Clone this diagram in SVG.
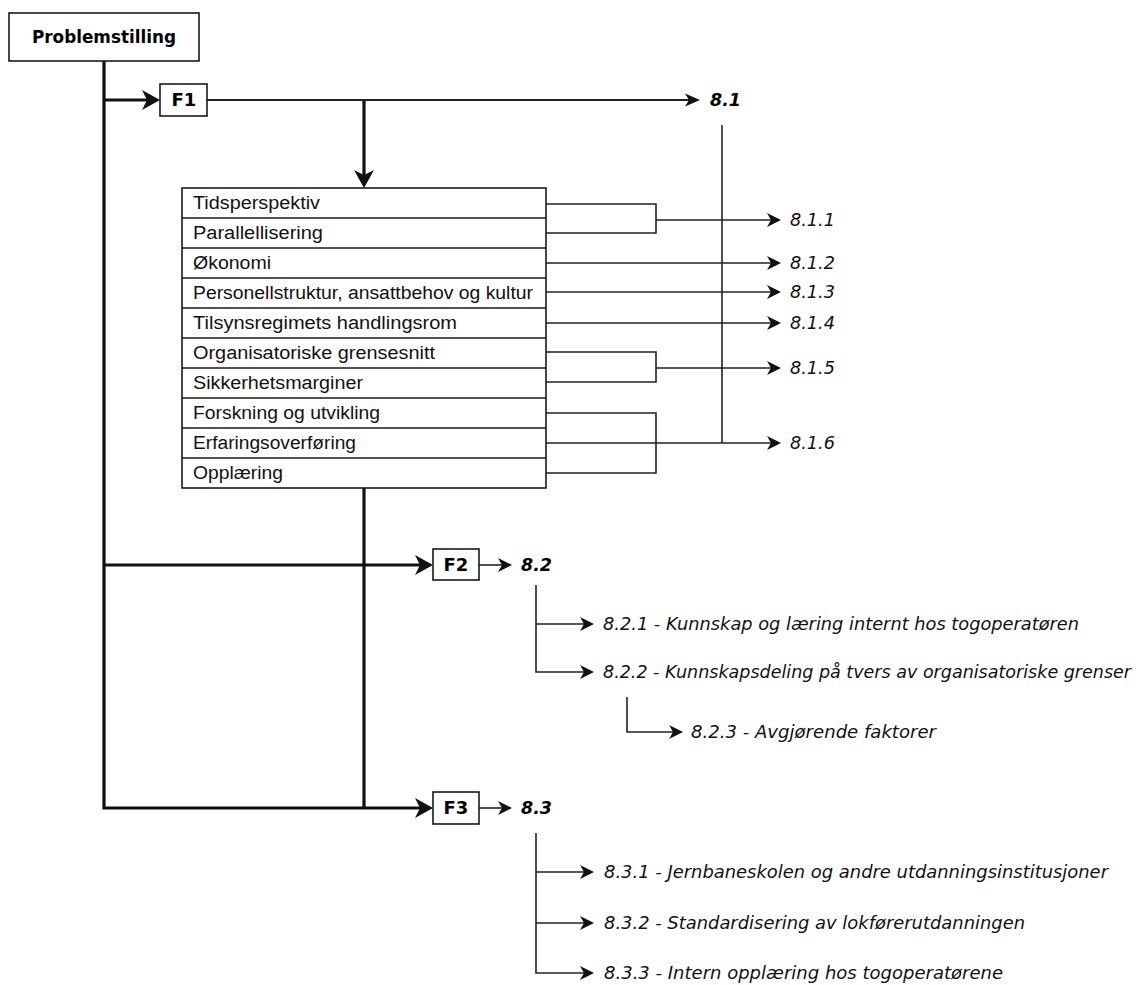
<svg xmlns="http://www.w3.org/2000/svg" xmlns:xlink="http://www.w3.org/1999/xlink" width="1142" height="985" viewBox="0 0 1142 985">
  <style>
    .box { fill: #ffffff; stroke: #1a1a1a; stroke-width: 1.6; }
    .thick { fill: none; stroke: #111111; stroke-width: 3.2; }
    .mid { fill: none; stroke: #222222; stroke-width: 2.2; }
    .thin { fill: none; stroke: #222222; stroke-width: 1.6; }
    .head { fill: #111111; stroke: none; }
    .title { font-family: "DejaVu Sans", Verdana, sans-serif; font-weight: bold; font-size: 18px; fill: #000; }
    .row { font-family: "Liberation Sans", Arial, sans-serif; font-size: 18px; fill: #111; }
    .ref { font-family: "DejaVu Sans", Verdana, sans-serif; font-style: italic; font-size: 18px; fill: #111; }
    .ref.long { font-size: 17px; }
    .refb { font-family: "DejaVu Sans", Verdana, sans-serif; font-style: italic; font-weight: bold; font-size: 18px; fill: #000; }
  </style>
  <defs>
    <!-- arrowheads, tip at the origin, pointing right -->
    <path id="ahBig" class="head" d="M0,0 L-18,-10 L-13,0 L-18,10 Z"/>
    <path id="ahMid" class="head" d="M0,0 L-15,-6.5 L-11,0 L-15,6.5 Z"/>
    <path id="ahSmall" class="head" d="M0,0 L-14,-7 L-10,0 L-14,7 Z"/>
  </defs>
  <rect width="1142" height="985" fill="#ffffff"/>

  <!-- connectors -->
  <g id="connectors">
    <!-- main trunk and question branches -->
    <path class="thick" d="M104,61 V808 H420"/>
    <path class="thick" d="M104,100 H148"/>
    <path class="thick" d="M104,565 H420"/>
    <path class="thick" d="M364,488 V808"/>
    <path class="thick" d="M364,100 V176"/>
    <use xlink:href="#ahBig" x="160" y="100"/>
    <use xlink:href="#ahBig" x="433" y="565"/>
    <use xlink:href="#ahBig" x="433" y="808"/>
    <use xlink:href="#ahBig" transform="translate(364,188) rotate(90)"/>

    <!-- F1 to 8.1 -->
    <path class="mid" d="M207,100 H690"/>
    <use xlink:href="#ahMid" x="700" y="100"/>
    <path class="thin" d="M722,125 V443"/>

    <!-- table rows to 8.1.x -->
    <path class="thin" d="M546,204 H656 V233 H546 M656,220 H772"/>
    <use xlink:href="#ahSmall" x="781" y="220"/>
    <path class="thin" d="M546,263 H772"/>
    <use xlink:href="#ahSmall" x="781" y="263"/>
    <path class="thin" d="M546,292 H772"/>
    <use xlink:href="#ahSmall" x="781" y="292"/>
    <path class="thin" d="M546,323 H772"/>
    <use xlink:href="#ahSmall" x="781" y="323"/>
    <path class="thin" d="M546,352 H656 V382 H546 M656,368 H772"/>
    <use xlink:href="#ahSmall" x="781" y="368"/>
    <path class="thin" d="M546,413 H656 V473 H546 M546,443 H772"/>
    <use xlink:href="#ahSmall" x="781" y="443"/>

    <!-- F2 / F3 to chapter numbers -->
    <path class="thin" d="M479,565 H504"/>
    <use xlink:href="#ahSmall" x="512" y="565"/>
    <path class="thin" d="M479,808 H504"/>
    <use xlink:href="#ahSmall" x="512" y="808"/>

    <!-- 8.2 subsections -->
    <path class="thin" d="M536,585 V672 H584 M536,624 H584"/>
    <use xlink:href="#ahSmall" x="594" y="624"/>
    <use xlink:href="#ahSmall" x="594" y="672"/>
    <path class="thin" d="M627,697 V732 H673"/>
    <use xlink:href="#ahSmall" x="683" y="732"/>

    <!-- 8.3 subsections -->
    <path class="thin" d="M536,833 V973 H584 M536,872 H584 M536,923 H584"/>
    <use xlink:href="#ahSmall" x="594" y="872"/>
    <use xlink:href="#ahSmall" x="594" y="923"/>
    <use xlink:href="#ahSmall" x="594" y="973"/>
  </g>

  <g id="problemstilling">
    <rect class="box" x="9" y="13" width="190" height="48"/>
    <text class="title" x="104" y="43" text-anchor="middle" textLength="144" lengthAdjust="spacingAndGlyphs">Problemstilling</text>
  </g>

  <g id="f1">
    <rect class="box" x="160" y="84" width="47" height="32"/>
    <text class="title" x="184" y="106" text-anchor="middle">F1</text>
  </g>

  <g id="f2">
    <rect class="box" x="433" y="549" width="46" height="31"/>
    <text class="title" x="456" y="571" text-anchor="middle">F2</text>
  </g>

  <g id="f3">
    <rect class="box" x="433" y="792" width="46" height="32"/>
    <text class="title" x="456" y="814" text-anchor="middle">F3</text>
  </g>

  <g id="factors">
    <rect class="box" x="182" y="188" width="364" height="300"/>
    <path class="box" d="M182,218 H546 M182,248 H546 M182,278 H546 M182,308 H546 M182,338 H546 M182,368 H546 M182,398 H546 M182,428 H546 M182,458 H546"/>
    <text class="row" x="193" y="209" textLength="127" lengthAdjust="spacingAndGlyphs">Tidsperspektiv</text>
    <text class="row" x="193" y="239" textLength="130" lengthAdjust="spacingAndGlyphs">Parallellisering</text>
    <text class="row" x="193" y="269" textLength="78" lengthAdjust="spacingAndGlyphs">Økonomi</text>
    <text class="row" x="193" y="299" textLength="340" lengthAdjust="spacingAndGlyphs">Personellstruktur, ansattbehov og kultur</text>
    <text class="row" x="193" y="329" textLength="264" lengthAdjust="spacingAndGlyphs">Tilsynsregimets handlingsrom</text>
    <text class="row" x="193" y="359" textLength="242" lengthAdjust="spacingAndGlyphs">Organisatoriske grensesnitt</text>
    <text class="row" x="193" y="389" textLength="170" lengthAdjust="spacingAndGlyphs">Sikkerhetsmarginer</text>
    <text class="row" x="193" y="419" textLength="187" lengthAdjust="spacingAndGlyphs">Forskning og utvikling</text>
    <text class="row" x="193" y="449" textLength="163" lengthAdjust="spacingAndGlyphs">Erfaringsoverføring</text>
    <text class="row" x="193" y="479" textLength="90" lengthAdjust="spacingAndGlyphs">Opplæring</text>
  </g>

  <g id="chapter-8-1">
    <text class="refb" x="710" y="106" textLength="31" lengthAdjust="spacingAndGlyphs">8.1</text>
    <text class="ref" x="790" y="226" textLength="45" lengthAdjust="spacingAndGlyphs">8.1.1</text>
    <text class="ref" x="790" y="269" textLength="45" lengthAdjust="spacingAndGlyphs">8.1.2</text>
    <text class="ref" x="790" y="298" textLength="45" lengthAdjust="spacingAndGlyphs">8.1.3</text>
    <text class="ref" x="790" y="329" textLength="45" lengthAdjust="spacingAndGlyphs">8.1.4</text>
    <text class="ref" x="790" y="374" textLength="45" lengthAdjust="spacingAndGlyphs">8.1.5</text>
    <text class="ref" x="790" y="449" textLength="45" lengthAdjust="spacingAndGlyphs">8.1.6</text>
  </g>

  <g id="chapter-8-2">
    <text class="refb" x="521" y="571" textLength="31" lengthAdjust="spacingAndGlyphs">8.2</text>
    <text class="ref" x="603" y="630" textLength="476" lengthAdjust="spacingAndGlyphs">8.2.1 - Kunnskap og læring internt hos togoperatøren</text>
    <text class="ref long" x="603" y="678" textLength="528" lengthAdjust="spacingAndGlyphs">8.2.2 - Kunnskapsdeling på tvers av organisatoriske grenser</text>
    <text class="ref" x="691" y="738" textLength="245" lengthAdjust="spacingAndGlyphs">8.2.3 - Avgjørende faktorer</text>
  </g>

  <g id="chapter-8-3">
    <text class="refb" x="521" y="814" textLength="31" lengthAdjust="spacingAndGlyphs">8.3</text>
    <text class="ref" x="604" y="878" textLength="504" lengthAdjust="spacingAndGlyphs">8.3.1 - Jernbaneskolen og andre utdanningsinstitusjoner</text>
    <text class="ref" x="604" y="929" textLength="421" lengthAdjust="spacingAndGlyphs">8.3.2 - Standardisering av lokførerutdanningen</text>
    <text class="ref" x="604" y="979" textLength="399" lengthAdjust="spacingAndGlyphs">8.3.3 - Intern opplæring hos togoperatørene</text>
  </g>
</svg>
